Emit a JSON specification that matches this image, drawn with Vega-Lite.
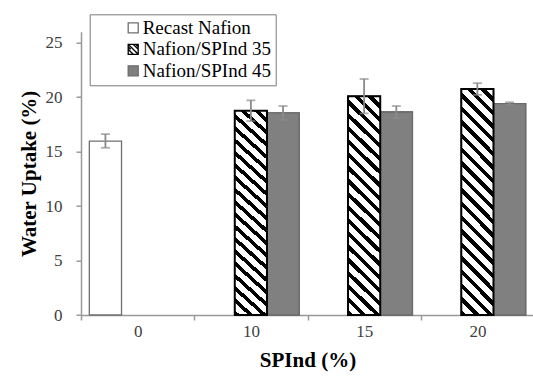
{
  "$schema": "https://vega.github.io/schema/vega-lite/v6.json",
  "width": 453,
  "height": 283.3,
  "autosize": {"type": "none"},
  "padding": {"left": 81, "top": 31.7, "right": 0, "bottom": 72},
  "background": "white",
  "data": {
    "values": [
      {"SPInd": "0", "series": "Recast Nafion", "value": 15.95, "lo": 15.35, "hi": 16.6},
      {"SPInd": "10", "series": "Nafion/SPInd 35", "value": 18.75, "lo": 17.8, "hi": 19.7},
      {"SPInd": "10", "series": "Nafion/SPInd 45", "value": 18.55, "lo": 17.92, "hi": 19.18},
      {"SPInd": "15", "series": "Nafion/SPInd 35", "value": 20.08, "lo": 18.5, "hi": 21.66},
      {"SPInd": "15", "series": "Nafion/SPInd 45", "value": 18.63, "lo": 18.05, "hi": 19.18},
      {"SPInd": "20", "series": "Nafion/SPInd 35", "value": 20.74, "lo": 20.2, "hi": 21.28},
      {"SPInd": "20", "series": "Nafion/SPInd 45", "value": 19.4, "lo": 19.28, "hi": 19.52}
    ]
  },
  "config": {
    "view": {"stroke": null},
    "axis": {
      "labelFont": "Liberation Serif, Times New Roman, DejaVu Serif, serif",
      "labelFontSize": 17,
      "labelColor": "#404040",
      "titleFont": "Liberation Serif, Times New Roman, DejaVu Serif, serif",
      "titleFontSize": 21,
      "titleFontWeight": "bold",
      "titleColor": "black",
      "domainColor": "#999999",
      "domainWidth": 1.5,
      "tickColor": "#999999",
      "tickWidth": 1.5,
      "tickSize": 5,
      "grid": false
    },
    "legend": {
      "orient": "none",
      "legendX": 8.7,
      "legendY": -17.4,
      "title": null,
      "direction": "vertical",
      "strokeColor": "#7a7a7a",
      "fillColor": "white",
      "padding": 4,
      "symbolSize": 100,
      "symbolOpacity": 1,
      "symbolStrokeWidth": 1.3,
      "symbolOffset": 30,
      "labelOffset": 0,
      "labelFont": "Liberation Serif, Times New Roman, DejaVu Serif, serif",
      "labelFontSize": 19,
      "labelColor": "black",
      "rowPadding": 1.5
    }
  },
  "encoding": {
    "x": {
      "field": "SPInd",
      "type": "nominal",
      "title": "SPInd (%)",
      "sort": ["0", "10", "15", "20"],
      "scale": {"paddingInner": 0.147, "paddingOuter": 0.0735},
      "axis": {"labelAngle": 0, "bandPosition": 0, "tickOffset": -8.32, "labelOffset": 8.32, "labelPadding": 3, "titlePadding": 10}
    },
    "xOffset": {
      "field": "series",
      "type": "nominal",
      "scale": {"domain": ["Recast Nafion", "Nafion/SPInd 35", "Nafion/SPInd 45"], "paddingInner": 0, "paddingOuter": 0}
    }
  },
  "layer": [
    {
      "mark": {"type": "bar", "fill": "white", "stroke": "#707070", "strokeWidth": 1.3},
      "encoding": {
        "y": {
          "field": "value",
          "type": "quantitative",
          "title": "Water Uptake (%)",
          "scale": {"domain": [0, 25]},
          "axis": {"values": [0, 5, 10, 15, 20, 25], "labelPadding": 14, "titlePadding": 6}
        }
      }
    },
    {
      "transform": [{"filter": "datum.series === 'Nafion/SPInd 45'"}],
      "mark": {"type": "bar", "fill": "#808080", "stroke": "#6a6a6a", "strokeWidth": 1.3},
      "encoding": {
        "y": {"field": "value", "type": "quantitative", "title": "Water Uptake (%)"}
      }
    },
    {
      "transform": [{"filter": "datum.series === 'Nafion/SPInd 35'"}],
      "mark": {
        "type": "bar",
        "stroke": "black",
        "strokeWidth": 2,
        "fill": {
          "gradient": "linear", "x1": 0, "y1": 1, "x2": 0.1603, "y2": -0.1205,
          "stops": [
            {"offset": 0, "color": "black"}, {"offset": 0.02105, "color": "black"}, {"offset": 0.02105, "color": "white"}, {"offset": 0.05263, "color": "white"},
            {"offset": 0.05263, "color": "black"}, {"offset": 0.07368, "color": "black"}, {"offset": 0.07368, "color": "white"}, {"offset": 0.10526, "color": "white"},
            {"offset": 0.10526, "color": "black"}, {"offset": 0.12632, "color": "black"}, {"offset": 0.12632, "color": "white"}, {"offset": 0.15789, "color": "white"},
            {"offset": 0.15789, "color": "black"}, {"offset": 0.17895, "color": "black"}, {"offset": 0.17895, "color": "white"}, {"offset": 0.21053, "color": "white"},
            {"offset": 0.21053, "color": "black"}, {"offset": 0.23158, "color": "black"}, {"offset": 0.23158, "color": "white"}, {"offset": 0.26316, "color": "white"},
            {"offset": 0.26316, "color": "black"}, {"offset": 0.28421, "color": "black"}, {"offset": 0.28421, "color": "white"}, {"offset": 0.31579, "color": "white"},
            {"offset": 0.31579, "color": "black"}, {"offset": 0.33684, "color": "black"}, {"offset": 0.33684, "color": "white"}, {"offset": 0.36842, "color": "white"},
            {"offset": 0.36842, "color": "black"}, {"offset": 0.38947, "color": "black"}, {"offset": 0.38947, "color": "white"}, {"offset": 0.42105, "color": "white"},
            {"offset": 0.42105, "color": "black"}, {"offset": 0.44211, "color": "black"}, {"offset": 0.44211, "color": "white"}, {"offset": 0.47368, "color": "white"},
            {"offset": 0.47368, "color": "black"}, {"offset": 0.49474, "color": "black"}, {"offset": 0.49474, "color": "white"}, {"offset": 0.52632, "color": "white"},
            {"offset": 0.52632, "color": "black"}, {"offset": 0.54737, "color": "black"}, {"offset": 0.54737, "color": "white"}, {"offset": 0.57895, "color": "white"},
            {"offset": 0.57895, "color": "black"}, {"offset": 0.6, "color": "black"}, {"offset": 0.6, "color": "white"}, {"offset": 0.63158, "color": "white"},
            {"offset": 0.63158, "color": "black"}, {"offset": 0.65263, "color": "black"}, {"offset": 0.65263, "color": "white"}, {"offset": 0.68421, "color": "white"},
            {"offset": 0.68421, "color": "black"}, {"offset": 0.70526, "color": "black"}, {"offset": 0.70526, "color": "white"}, {"offset": 0.73684, "color": "white"},
            {"offset": 0.73684, "color": "black"}, {"offset": 0.75789, "color": "black"}, {"offset": 0.75789, "color": "white"}, {"offset": 0.78947, "color": "white"},
            {"offset": 0.78947, "color": "black"}, {"offset": 0.81053, "color": "black"}, {"offset": 0.81053, "color": "white"}, {"offset": 0.84211, "color": "white"},
            {"offset": 0.84211, "color": "black"}, {"offset": 0.86316, "color": "black"}, {"offset": 0.86316, "color": "white"}, {"offset": 0.89474, "color": "white"},
            {"offset": 0.89474, "color": "black"}, {"offset": 0.91579, "color": "black"}, {"offset": 0.91579, "color": "white"}, {"offset": 0.94737, "color": "white"},
            {"offset": 0.94737, "color": "black"}, {"offset": 0.96842, "color": "black"}, {"offset": 0.96842, "color": "white"}, {"offset": 1, "color": "white"}
          ]
        }
      },
      "encoding": {
        "y": {"field": "value", "type": "quantitative", "title": "Water Uptake (%)"}
      }
    },
    {
      "mark": {"type": "rule", "color": "#8a8a8a", "strokeWidth": 1.8},
      "encoding": {
        "y": {"field": "lo", "type": "quantitative", "title": "Water Uptake (%)"},
        "y2": {"field": "hi"}
      }
    },
    {
      "mark": {"type": "tick", "orient": "horizontal", "color": "#8a8a8a", "thickness": 1.8, "size": 9},
      "encoding": {
        "y": {"field": "hi", "type": "quantitative", "title": "Water Uptake (%)"}
      }
    },
    {
      "mark": {"type": "tick", "orient": "horizontal", "color": "#8a8a8a", "thickness": 1.8, "size": 9},
      "encoding": {
        "y": {"field": "lo", "type": "quantitative", "title": "Water Uptake (%)"}
      }
    },
    {
      "mark": {"type": "point", "filled": true, "opacity": 0, "size": 100, "strokeWidth": 1.3},
      "encoding": {
        "y": {"field": "value", "type": "quantitative", "title": "Water Uptake (%)"},
        "fill": {
          "field": "series",
          "type": "nominal",
          "scale": {"domain": ["Recast Nafion", "Nafion/SPInd 35", "Nafion/SPInd 45"], "range": ["white", "white", "#808080"]},
          "legend": {"labelExpr": "datum.label + '\u2003\u2003\u2003\u2002'"}
        },
        "stroke": {
          "field": "series",
          "type": "nominal",
          "scale": {"domain": ["Recast Nafion", "Nafion/SPInd 35", "Nafion/SPInd 45"], "range": ["#707070", "black", "#6a6a6a"]},
          "legend": {"labelExpr": "datum.label + '\u2003\u2003\u2003\u2002'"}
        },
        "shape": {
          "field": "series",
          "type": "nominal",
          "scale": {
            "domain": ["Recast Nafion", "Nafion/SPInd 35", "Nafion/SPInd 45"],
            "range": [
              "square",
              "M-1,-1H1V1H-1Z M-1,-1L1,1 M0,-1L1,0 M-1,0L0,1 M-1,-0.5L-0.5,0 M0.5,-1L1,-0.5",
              "square"
            ]
          },
          "legend": {"labelExpr": "datum.label + '\u2003\u2003\u2003\u2002'"}
        }
      }
    }
  ]
}
